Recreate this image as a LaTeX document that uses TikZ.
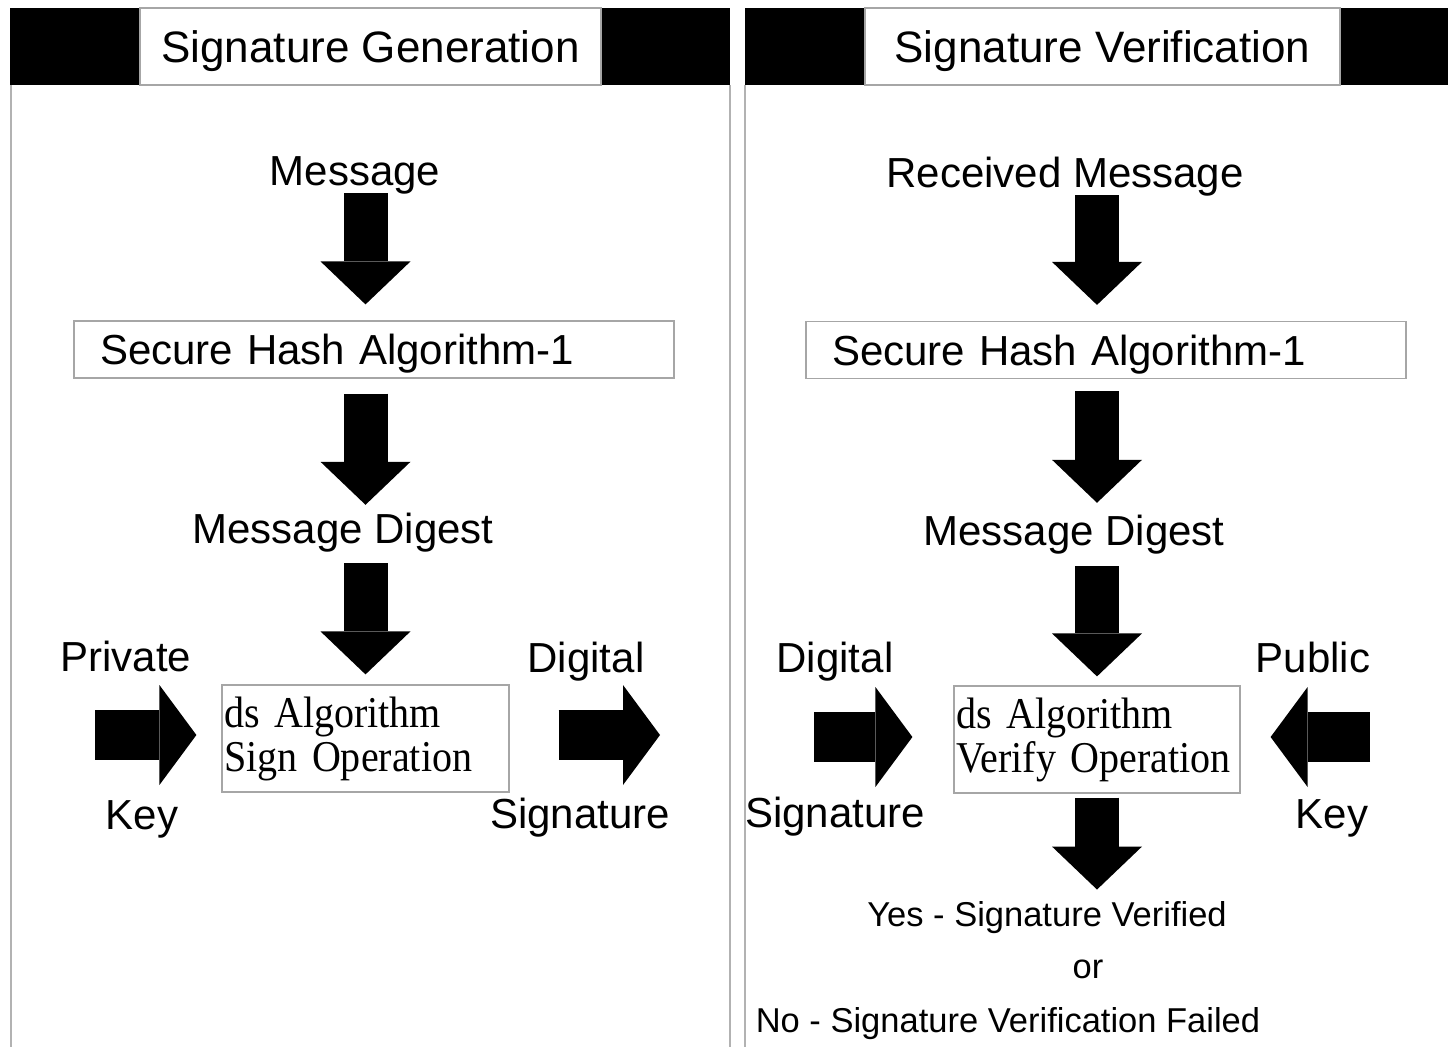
\documentclass[tikz,border=0pt]{standalone}
\usepackage{fontspec}
\setmainfont{Liberation Sans}
\newfontfamily\opfont{Liberation Serif}[FakeStretch=0.91]
\usetikzlibrary{arrows.meta, positioning}
\tikzset{every node/.style={inner sep=0pt},
	lbl/.style={font=\fontsize{42}{50}\selectfont, text height=30pt, text depth=0pt},
	small lbl/.style={font=\fontsize{34.5}{40}\selectfont, text height=24.5pt, text depth=0pt},
	title box/.style={lbl, font=\fontsize{44}{50}\selectfont, text height=32pt, draw=gray!70, line width=1.2pt, fill=white, minimum width=461pt, minimum height=77pt},
	hash box/.style={lbl, draw=gray!70, line width=1.2pt, text width=548pt, inner xsep=26pt, align=left, minimum height=57pt},
	op box/.style={font=\opfont\fontsize{44}{44}\selectfont, draw=gray!70, line width=1.2pt, inner xsep=2pt, align=left, minimum height=107pt},
	frame/.style={draw=gray!60, line width=1.5pt},
	down arrow/.style={line width=44pt, -{Triangle[width=90pt, length=43pt, line width=0pt]}},
	side arrow/.style={line width=50pt, -{Triangle[width=100pt, length=37pt, line width=0pt]}}}

\begin{document}
\begin{tikzpicture}[x=1pt, y=-1pt]
	\useasboundingbox (0,0) rectangle (1448,1047);
	% header bars and panel frames
	\fill (10,8) rectangle (730,85);
	\fill (745,8) rectangle (1448,85);
	\draw[frame] (11,85) -- (11,1047) (730,85) -- (730,1047) (745,85) -- (745,1047);
	\node[title box] (Gen Title) at (370.5,46.5) {Signature Generation};
	\node[title box, minimum width=475pt] (Ver Title) at (1102.5,46.5) {Signature Verification};

	% signature generation
	\node[lbl] (Message) at (355,170) {Message};
	\node[hash box] (Hash Gen) at (374,349.5) {Secure Hash Algorithm-1};
	\node[lbl] (Digest Gen) at (343,528) {Message Digest};
	\node[op box, text width=283pt] (Sign Op) at (365.5,738.5) {ds Algorithm\\Sign Operation};
	\node[lbl] (Private) at (126,656) {Private};
	\node[lbl] (Key Gen) at (142,814) {Key};
	\node[lbl] (Digital Gen) at (586,657) {Digital};
	\node[lbl] (Sig Gen) at (580,813) {Signature};
	\coordinate (Private In) at (95,735);
	\coordinate (Sig Out) at (660,735);

	\draw[down arrow, shorten <=8pt, shorten >=16pt] (Message.south -| Sign Op.north) -- (Hash Gen.north -| Sign Op.north);
	\draw[down arrow, shorten <=15pt, shorten >=8pt] (Hash Gen.south -| Sign Op.north) -- (Digest Gen.north -| Sign Op.north);
	\draw[down arrow, shorten <=20pt, shorten >=10pt] (Digest Gen.south -| Sign Op.north) -- (Sign Op.north);
	\draw[side arrow, shorten >=25pt] (Private In) -- (Private In -| Sign Op.west);
	\draw[side arrow, shorten <=49pt] (Sig Out -| Sign Op.east) -- (Sig Out);

	% signature verification
	\node[lbl] (Received) at (1065,172) {Received Message};
	\node[hash box] (Hash Ver) at (1106,350) {Secure Hash Algorithm-1};
	\node[lbl] (Digest Ver) at (1074,530) {Message Digest};
	\node[op box, text width=282pt] (Verify Op) at (1097,739.5) {ds Algorithm\\Verify Operation};
	\node[lbl] (Digital Ver) at (835,657) {Digital};
	\node[lbl] (Sig Ver) at (835,812) {Signature};
	\node[lbl] (Public) at (1313,657) {Public};
	\node[lbl] (Key Ver) at (1332,813) {Key};
	\node[small lbl] (Yes) at (1047,914) {Yes - Signature Verified};
	\node[small lbl] (Or) at (1088,966) {or};
	\node[small lbl] (No) at (1008,1020) {No - Signature Verification Failed};
	\coordinate (Sig In) at (814,737);
	\coordinate (Public In) at (1370,737);

	\draw[down arrow, shorten <=8pt, shorten >=16pt] (Received.south -| Verify Op.north) -- (Hash Ver.north -| Verify Op.north);
	\draw[down arrow, shorten <=12pt, shorten >=12pt] (Hash Ver.south -| Verify Op.north) -- (Digest Ver.north -| Verify Op.north);
	\draw[down arrow, shorten <=21pt, shorten >=9pt] (Digest Ver.south -| Verify Op.north) -- (Verify Op.north);
	\draw[down arrow, shorten <=4pt, shorten >=12pt] (Verify Op.south) -- (Yes.north -| Verify Op.south);
	\draw[side arrow, shorten >=41pt] (Sig In) -- (Sig In -| Verify Op.west);
	\draw[side arrow, shorten >=30pt] (Public In) -- (Public In -| Verify Op.east);
\end{tikzpicture}
\end{document}
